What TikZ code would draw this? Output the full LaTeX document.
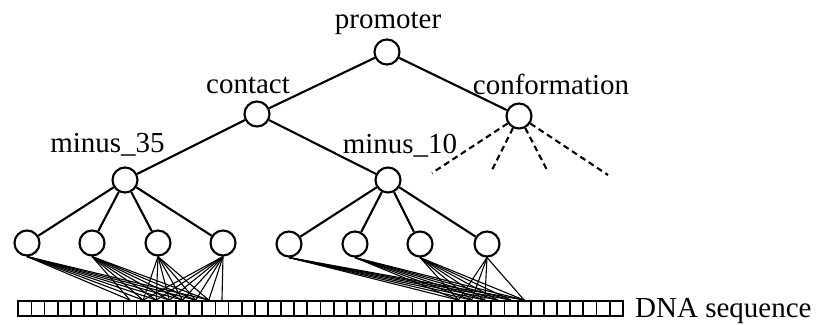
\documentclass[tikz,border=0pt]{standalone}
\usepackage{fontspec}
\setmainfont{Liberation Serif}
\begin{document}
\begin{tikzpicture}[x=1pt,y=-1pt,
  unit/.style={circle,draw,line width=2.1pt,minimum size=25pt,inner sep=0pt,fill=white},
  lbl/.style={anchor=base,inner sep=0pt,font=\fontsize{29}{34}\selectfont},
  edge/.style={line width=2.1pt},
  fan/.style={line width=1.1pt},
  dashedge/.style={line width=2.1pt,dash pattern=on 6pt off 4pt},
  cell/.style={rectangle,draw,line width=1.8pt,minimum width=13.14pt,minimum height=15pt,inner sep=0pt}]
\useasboundingbox (0,0) rectangle (818,324);

% DNA cells
\foreach \i in {0,...,45} \node[cell] (c\i) at ({24.87+13.14*\i},308.5) {};

% tree units
\node[unit] (promoter) at (387,52) {};
\node[unit] (contact) at (257,114) {};
\node[unit] (conf) at (519,116) {};
\node[unit] (m35) at (125,180) {};
\node[unit] (m10) at (388,180) {};
\node[unit] (l1) at (27,243) {};
\node[unit] (l2) at (92,243) {};
\node[unit] (l3) at (158,243) {};
\node[unit] (l4) at (223,243) {};
\node[unit] (l5) at (289,244) {};
\node[unit] (l6) at (355,244) {};
\node[unit] (l7) at (420,244) {};
\node[unit] (l8) at (487,244) {};

% labels
\node[lbl] (tprom) at (388,28.5) {promoter};
\node[lbl] (tcont) at (248,93.5) {contact};
\node[lbl] (tconf) at (551,94.5) {conformation};
\node[lbl] (tm35) at (107.5,152.5) {minus\_35};
\node[lbl] (tm10) at (400,153.5) {minus\_10};
\node[lbl,anchor=base west] (tdna) at (635,317.7) {DNA sequence};

% tree edges
\draw[edge] (promoter) -- (contact);
\draw[edge] (promoter) -- (conf);
\draw[edge] (contact) -- (m35);
\draw[edge] (contact) -- (m10);
\foreach \l in {l1,l2,l3,l4} \draw[edge] (m35) -- (\l);
\foreach \l in {l5,l6,l7,l8} \draw[edge] (m10) -- (\l);

% dashed (unexpanded) branches
\coordinate (d1) at (432,173);
\coordinate (d2) at (492,170);
\coordinate (d3) at (547,170);
\coordinate (d4) at (608,175);
\foreach \d in {d1,d2,d3,d4} \draw[dashedge] (conf) -- (\d);

% fans to the DNA sequence
\foreach \i in {8,...,14} \draw[fan] (l1.south) -- (c\i.north);
\foreach \i in {8,...,14} \draw[fan] (l2.south) -- (c\i.north);
\foreach \i in {9,...,14} \draw[fan] (l3.south) -- (c\i.north);
\foreach \i in {9,...,15} \draw[fan] (l4.south) -- (c\i.north);
\foreach \i in {33,...,38} \draw[fan] (l5.south) -- (c\i.north);
\foreach \i in {33,...,38} \draw[fan] (l6.south) -- (c\i.north);
\foreach \i in {33,...,38} \draw[fan] (l7.south) -- (c\i.north);
\foreach \i in {33,34,35,38} \draw[fan] (l8.south) -- (c\i.north);
\end{tikzpicture}
\end{document}
